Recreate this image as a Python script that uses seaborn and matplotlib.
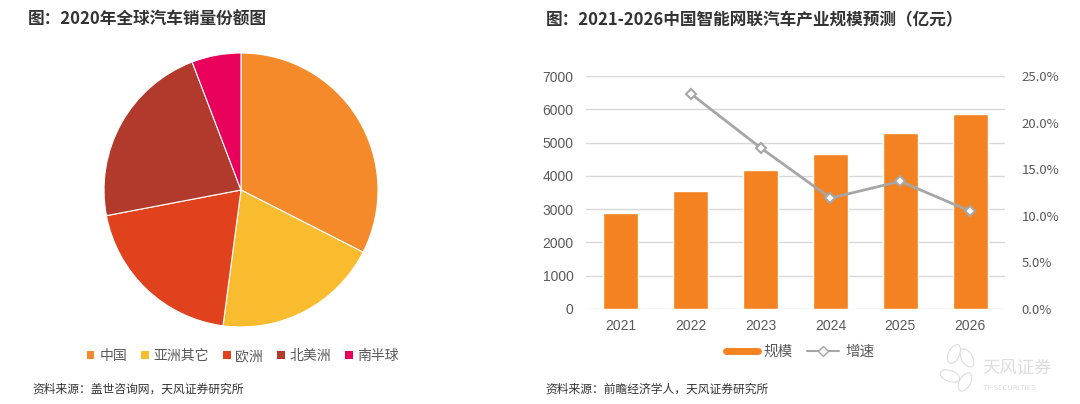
import numpy as np
import matplotlib
matplotlib.use('Agg')
import matplotlib.pyplot as plt
from matplotlib.lines import Line2D
from matplotlib.patches import Patch, Ellipse
from matplotlib.transforms import IdentityTransform
import seaborn as sns

# 数据：2020年全球汽车销量份额
regions = ['中国', '亚洲其它', '欧洲', '北美洲', '南半球']
shares = [32.5, 19.6, 19.9, 22.2, 5.8]
pie_colors = ['#F58A2A', '#F9BC2E', '#E0421E', '#B23A2C', '#E8005A']

# 数据：智能网联汽车产业规模预测
years = [2021, 2022, 2023, 2024, 2025, 2026]
scale = [2890, 3550, 4170, 4670, 5300, 5860]
growth_years = [2022, 2023, 2024, 2025, 2026]
growth = [0.231, 0.173, 0.119, 0.137, 0.105]

sns.set_theme(style='white')
plt.rcParams['font.family'] = ['Noto Sans CJK SC', 'DejaVu Sans']

txt = '#595959'
fig = plt.figure(figsize=(10.8, 4.04), dpi=100)

# 标题
fig.text(28/1080, 1-20/404, '图：2020年全球汽车销量份额图', fontsize=12,
         fontweight='bold', color='#333333', va='center')
fig.text(546/1080, 1-20/404, '图：2021-2026中国智能网联汽车产业规模预测（亿元）', fontsize=12,
         fontweight='bold', color='#333333', va='center')

# 饼图
ax1 = fig.add_axes([104/1080, 77/404, 274/1080, 274/404])
ax1.pie(shares, colors=pie_colors, startangle=90, counterclock=False,
        wedgeprops=dict(edgecolor='white', linewidth=0.8))
ax1.set_xlim(-1.0, 1.0)
ax1.set_ylim(-1.0, 1.0)
handles = [Patch(facecolor=c, edgecolor='none') for c in pie_colors]
fig.legend(handles, regions, loc='center', bbox_to_anchor=(243/1080, 1-356/404),
           ncol=5, frameon=False, fontsize=10, handlelength=0.55, handleheight=0.55,
           handletextpad=0.35, columnspacing=1.0, labelcolor=txt)

# 柱状图 + 折线
ax = fig.add_axes([586/1080, 95/404, 419/1080, 233/404])
sns.barplot(x=years, y=scale, native_scale=True, width=0.5, color='#F58220',
            saturation=1, ax=ax)
ax.set_xlim(2020.5, 2026.5)
ax.set_ylim(0, 7000)
ax.set_yticks(range(0, 7001, 1000))
ax.set_xticks(years)
ax.set_xticklabels([str(y) for y in years])
ax.yaxis.grid(True, color='#D9D9D9', linewidth=1)
ax.set_axisbelow(True)
for s in ax.spines.values():
    s.set_visible(False)
ax.tick_params(axis='y', length=0, pad=9, labelsize=10, labelcolor=txt)
ax.tick_params(axis='x', length=0, pad=7, labelsize=10, labelcolor=txt)
for lab in ax.get_xticklabels() + ax.get_yticklabels():
    lab.set_fontfamily(['Liberation Sans', 'DejaVu Sans'])

ax2 = ax.twinx()
sns.lineplot(x=growth_years, y=growth, color='#A6A6A6', linewidth=2, marker='D',
             markersize=5.5, markerfacecolor='white', markeredgecolor='#A6A6A6',
             markeredgewidth=1.5, ax=ax2)
ax2.set_ylim(0, 0.25)
ax2.set_yticks(np.arange(0, 0.2501, 0.05))
ax2.set_yticklabels([f'{v*100:.1f}%' for v in np.arange(0, 0.2501, 0.05)])
ax2.set_ylabel('')
for s in ax2.spines.values():
    s.set_visible(False)
ax2.tick_params(axis='y', length=0, pad=12, labelsize=9.5, labelcolor=txt)
ax2.grid(False)

lh = [Line2D([], [], color='#F58220', linewidth=5),
      Line2D([], [], color='#A6A6A6', linewidth=1.5, marker='D', markersize=5,
             markerfacecolor='white', markeredgecolor='#A6A6A6')]
fig.legend(lh, ['规模', '增速'], loc='center', bbox_to_anchor=(800/1080, 1-352/404),
           ncol=2, frameon=False, fontsize=10.5, handlelength=2.2,
           handletextpad=0.4, columnspacing=1.0, labelcolor=txt)

# 资料来源
fig.text(32/1080, 1-389/404, '资料来源：盖世咨询网，天风证券研究所', fontsize=8.5,
         color='#333333', va='center')
fig.text(545/1080, 1-389/404, '资料来源：前瞻经济学人，天风证券研究所', fontsize=8.5,
         color='#333333', va='center')

# 水印（logo，像素坐标）
wm = '#DDDDDD'
for cx, cy, w, h, ang in [(954, 354, 11, 20, -25), (967, 358, 11, 20, 30),
                          (950, 376, 11, 20, 70), (965, 382, 11, 20, -30)]:
    fig.patches.append(Ellipse((cx, 404 - cy), w, h, angle=ang, fill=False,
                               edgecolor=wm, linewidth=0.8,
                               transform=IdentityTransform()))
fig.text(982/1080, 1-368/404, '天风证券', fontsize=12.5, color=wm, va='center')
fig.text(983/1080, 1-388/404, 'TF SECURITIES', fontsize=5.5, color=wm, va='center')

fig.savefig('out.png', dpi=100, facecolor='white')
